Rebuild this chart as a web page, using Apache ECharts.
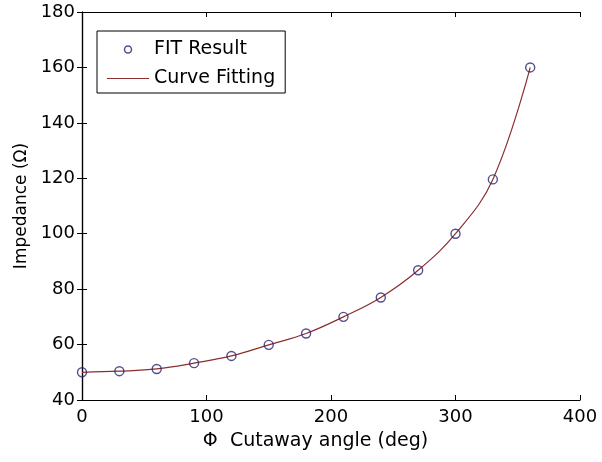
<!DOCTYPE html>
<html>
<head>
<meta charset="utf-8">
<script src="https://cdn.jsdelivr.net/npm/echarts@6/dist/echarts.min.js"></script>
<style>
  html, body { margin: 0; padding: 0; background: #fff; }
  #chart { width: 602px; height: 462px; }
</style>
</head>
<body>
<div id="chart"></div>
<script>
// Cutaway angle (deg) and measured impedance (ohm)
const angles = [0, 30, 60, 90, 120, 150, 180, 210, 240, 270, 300, 330, 360];
const impedance = [50, 50.4, 51.2, 53.3, 55.9, 59.9, 64, 70, 77, 86.8, 100, 119.6, 160];
const xTicks = [0, 100, 200, 300, 400];
const yTicks = [40, 60, 80, 100, 120, 140, 160, 180];

const FONT = '"DejaVu Sans", sans-serif';
const pairs = angles.map((a, i) => [a, impedance[i]]);

const MARKER = '#2b2370';
const CURVE = '#8b2e2e';

const tickStyle = { show: true, inside: true, length: 5, lineStyle: { color: '#000', width: 1 } };
const lineStyle = { show: true, lineStyle: { color: '#000', width: 1.2 } };

const chart = echarts.init(document.getElementById('chart'), null, { renderer: 'canvas' });
chart.setOption({
  animation: false,
  backgroundColor: '#fff',
  textStyle: { fontFamily: FONT },
  grid: { left: 82, right: 22, top: 12, bottom: 62, containLabel: false },
  legend: {
    orient: 'vertical',
    left: 97, top: 31,
    padding: [8, 10, 4, 10],
    itemGap: 8,
    itemWidth: 42, itemHeight: 7,
    borderColor: '#000', borderWidth: 1,
    backgroundColor: '#fff',
    textStyle: { fontFamily: FONT, fontSize: 19, color: '#000', lineHeight: 21 },
    data: [
      { name: 'FIT Result', icon: 'circle', itemStyle: { color: '#fff', borderColor: MARKER, borderWidth: 1.5 } },
      { name: 'Curve Fitting', icon: 'path://M0,0 L46,0 L46,1.3 L0,1.3 Z', itemStyle: { color: CURVE } }
    ]
  },
  xAxis: [{
    type: 'value', min: xTicks[0], max: xTicks[xTicks.length - 1], interval: 100,
    position: 'bottom',
    axisLine: lineStyle, axisTick: tickStyle, splitLine: { show: false },
    axisLabel: { fontFamily: FONT, fontSize: 18, color: '#000', margin: 8 },
    name: 'Φ  Cutaway angle (deg)', nameLocation: 'middle', nameGap: 32,
    nameTextStyle: { fontFamily: FONT, fontSize: 19, color: '#000', padding: [0, 31, 0, 0] }
  }, {
    type: 'value', min: xTicks[0], max: xTicks[xTicks.length - 1], interval: 100,
    position: 'top',
    axisLine: lineStyle, axisTick: tickStyle, axisLabel: { show: false }, splitLine: { show: false }
  }],
  yAxis: [{
    type: 'value', min: yTicks[0], max: yTicks[yTicks.length - 1], interval: 20,
    position: 'left',
    axisLine: lineStyle, axisTick: tickStyle, splitLine: { show: false },
    axisLabel: { fontFamily: FONT, fontSize: 18, color: '#000', margin: 7 },
    name: 'Impedance (Ω)', nameLocation: 'middle', nameGap: 52, nameRotate: 90,
    nameTextStyle: { fontFamily: FONT, fontSize: 17, color: '#000' }
  }, {
    type: 'value', min: yTicks[0], max: yTicks[yTicks.length - 1], interval: 20,
    position: 'right',
    axisLine: lineStyle, axisTick: tickStyle, axisLabel: { show: false }, splitLine: { show: false }
  }],
  series: [{
    name: 'Curve Fitting',
    type: 'line',
    data: pairs,
    smooth: 0.4,
    symbol: 'none',
    lineStyle: { color: CURVE, width: 1.2 },
    itemStyle: { color: CURVE },
    z: 2
  }, {
    name: 'FIT Result',
    type: 'scatter',
    data: pairs,
    symbol: 'circle',
    symbolSize: 9,
    itemStyle: { color: 'rgba(0,0,0,0)', borderColor: MARKER, borderWidth: 1.4 },
    z: 3
  }]
});
</script>
</body>
</html>
